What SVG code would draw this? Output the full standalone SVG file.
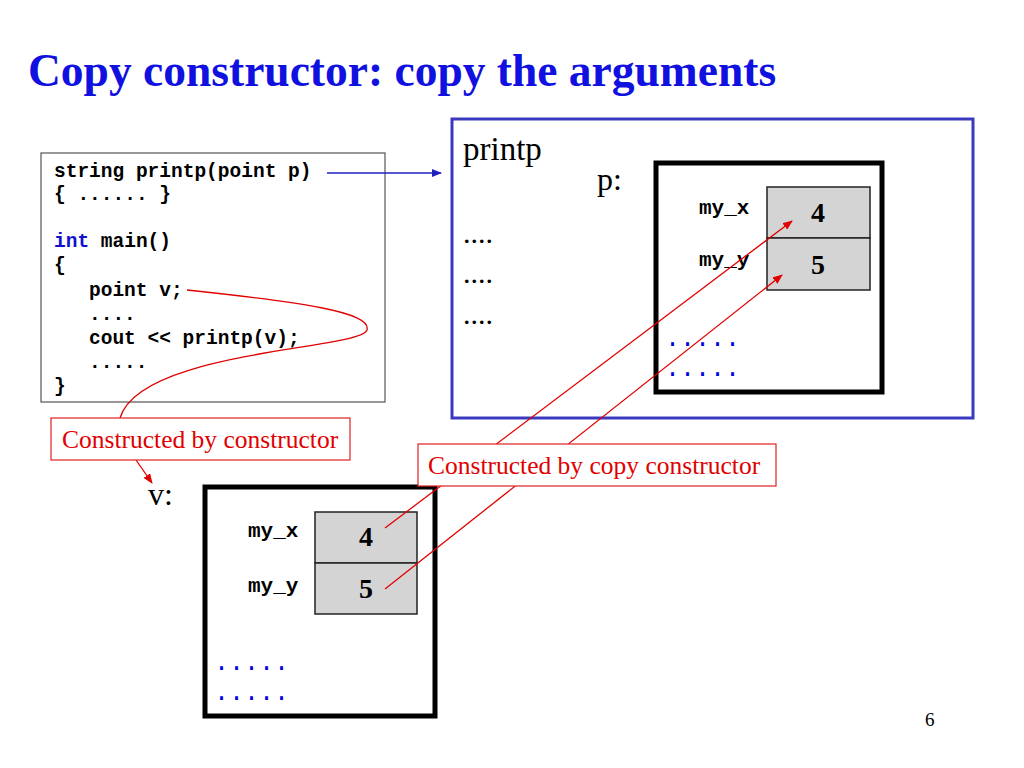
<svg xmlns="http://www.w3.org/2000/svg" width="1024" height="768" viewBox="0 0 1024 768">
<defs>
<style>
.code{font-family:"Liberation Mono",monospace;font-weight:bold;font-size:19.5px;fill:#000}
.kw{fill:#1010d0}
.serif{font-family:"Liberation Serif",serif;fill:#000}
.lbl{font-family:"Liberation Serif",serif;font-size:25.5px;fill:#e00000}
.lblbox{fill:#fff;stroke:#e02020;stroke-width:1.2}
.frame{fill:#fff;stroke:#000;stroke-width:5}
.cell{fill:#d4d4d4;stroke:#222;stroke-width:1.5}
.num{font-family:"Liberation Serif",serif;font-weight:bold;font-size:28px;text-anchor:middle}
.field{font-family:"Liberation Mono",monospace;font-weight:bold;font-size:21px}
.bdots{font-family:"Liberation Mono",monospace;font-size:25px;fill:#0000e0}
.red{fill:none;stroke:#e00000;stroke-width:1.3}
</style>
<marker id="ar" markerWidth="10" markerHeight="8" refX="9" refY="4" orient="auto" markerUnits="userSpaceOnUse">
<path d="M0,0 L10,4 L0,8 z" fill="#e00000"/>
</marker>
<marker id="ab" markerWidth="10" markerHeight="8" refX="9" refY="4" orient="auto" markerUnits="userSpaceOnUse">
<path d="M0,0 L10,4 L0,8 z" fill="#2020c0"/>
</marker>
</defs>
<rect width="1024" height="768" fill="#fff"/>
<text x="28" y="86" font-family="Liberation Serif,serif" font-weight="bold" font-size="45.5" fill="#1010e0">Copy constructor: copy the arguments</text>

<g id="printp-frame">
<rect x="452" y="119" width="521" height="299" fill="#fff" stroke="#3a3ac0" stroke-width="3"/>
<text class="serif" x="463" y="160" font-size="33">printp</text>
<text class="serif" x="463" y="243" font-size="30">....</text>
<text class="serif" x="463" y="283" font-size="30">....</text>
<text class="serif" x="463" y="324" font-size="30">....</text>
</g>

<g id="p-object">
<text class="serif" x="597" y="190" font-size="32">p:</text>
<rect class="frame" x="656" y="163" width="226" height="229"/>
<rect class="cell" x="767" y="187" width="103" height="51"/>
<rect class="cell" x="767" y="238" width="103" height="52"/>
<text class="field" x="699" y="214">my_x</text>
<text class="field" x="699" y="266">my_y</text>
<text class="num" x="818" y="222">4</text>
<text class="num" x="818" y="274">5</text>
<text class="bdots" x="665" y="346">.....</text>
<text class="bdots" x="665" y="376">.....</text>
</g>

<g id="code">
<rect x="41" y="153" width="344" height="249" fill="#fff" stroke="#555" stroke-width="1.2"/>
<text class="code" x="54" y="177">string printp(point p)</text>
<text class="code" x="54" y="200">{ ...... }</text>
<text class="code" x="54" y="247"><tspan class="kw">int</tspan> main()</text>
<text class="code" x="54" y="271">{</text>
<text class="code" x="89" y="296">point v;</text>
<text class="code" x="89" y="320">....</text>
<text class="code" x="89" y="344">cout &lt;&lt; printp(v);</text>
<text class="code" x="89" y="368">.....</text>
<text class="code" x="54" y="392">}</text>
</g>

<g id="v-object">
<text class="serif" x="148" y="505" font-size="32">v:</text>
<rect class="frame" x="205" y="487" width="230" height="229"/>
<rect class="cell" x="315" y="512" width="102" height="51"/>
<rect class="cell" x="315" y="563" width="102" height="51"/>
<text class="field" x="248" y="537">my_x</text>
<text class="field" x="248" y="592">my_y</text>
<text class="num" x="366" y="546">4</text>
<text class="num" x="366" y="598">5</text>
<text class="bdots" x="214" y="670">.....</text>
<text class="bdots" x="214" y="700">.....</text>
</g>

<g id="connectors">
<line x1="327" y1="173" x2="441" y2="173" stroke="#2020c0" stroke-width="1.3" marker-end="url(#ab)"/>
<line class="red" x1="385" y1="528" x2="792" y2="221" marker-end="url(#ar)"/>
<line class="red" x1="385" y1="589" x2="782" y2="275" marker-end="url(#ar)"/>
<path class="red" d="M187,290 C300,302 372,312 367,330 C360,350 140,350 120,418"/>
<line class="red" x1="136" y1="460" x2="152" y2="483" marker-end="url(#ar)"/>
</g>

<g id="label-constructor">
<rect class="lblbox" x="51" y="418" width="299" height="42"/>
<text class="lbl" x="62" y="448">Constructed by constructor</text>
</g>

<g id="label-copy">
<rect class="lblbox" x="418" y="444" width="358" height="42"/>
<text class="lbl" x="428" y="474">Constructed by copy constructor</text>
</g>

<text class="serif" x="925" y="726" font-size="19">6</text>
</svg>
